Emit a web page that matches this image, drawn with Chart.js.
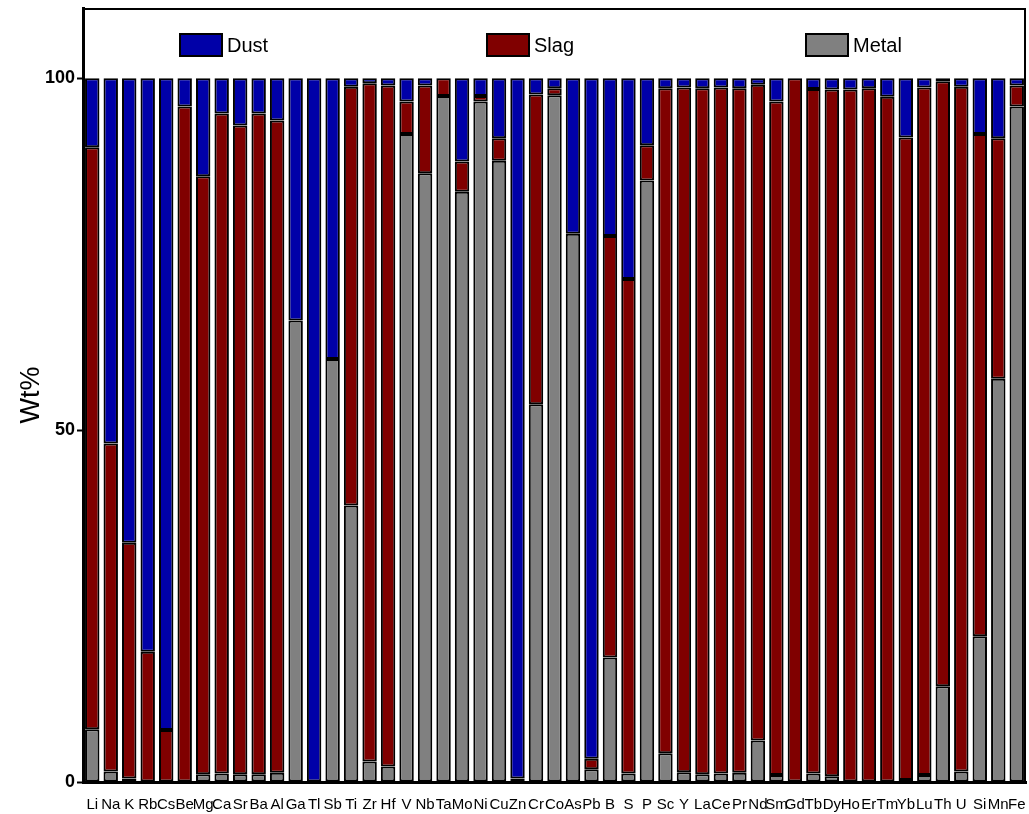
<!DOCTYPE html>
<html>
<head>
<meta charset="utf-8">
<title>Element distribution, Wt%</title>
<script src="https://cdn.jsdelivr.net/npm/chart.js@4.4.1/dist/chart.umd.min.js"></script>
<style>
  html, body { margin: 0; padding: 0; background: #ffffff; }
  #wrap { position: relative; width: 1029px; height: 814px; }
</style>
</head>
<body>
<div id="wrap"><canvas id="chart"></canvas></div>
<script>
// Elements along the x axis
const elements = ['Li','Na','K','Rb','Cs','Be','Mg','Ca','Sr','Ba','Al','Ga','Tl','Sb','Ti','Zr','Hf','V','Nb','Ta',
  'Mo','Ni','Cu','Zn','Cr','Co','As','Pb','B','S','P','Sc','Y','La','Ce','Pr','Nd','Sm','Gd','Tb',
  'Dy','Ho','Er','Tm','Yb','Lu','Th','U','Si','Mn','Fe'];

// Share of each element reporting to the metal phase (wt%)
const metal = [7.5,1.5,0.5,0,0,0,1.1,1.2,1.1,1.1,1.3,65.6,0,60.1,39.3,2.9,2.2,92.1,86.5,97.5,
  83.9,96.7,88.3,0.5,53.7,97.6,77.9,1.8,17.7,1.2,85.5,4.1,1.4,1.1,1.2,1.3,5.9,1.0,0,1.2,
  0.8,0,0,0,0.3,1.0,13.6,1.5,20.7,57.3,96.0];

// Share reporting to the slag (wt%)
const slag = [82.7,46.6,33.5,18.5,7.4,96.0,85.0,93.8,92.2,93.9,92.7,0,0,0,59.5,96.4,96.8,4.6,12.5,2.5,
  4.3,0.8,3.2,0,44.0,1.0,0,1.5,59.9,70.3,5.0,94.5,97.3,97.5,97.5,97.3,93.2,95.7,100,97.3,
  97.6,98.4,98.6,97.4,91.3,97.7,86.0,97.3,71.4,34.2,3.0];

// Share leaving with the dust (wt%)
const dust = [9.8,51.9,66.0,81.5,92.6,4.0,13.9,5.0,6.7,5.0,6.0,34.4,100,39.9,1.2,0.7,1.0,3.3,1.0,0,
  11.8,2.5,8.5,99.5,2.3,1.4,22.1,96.7,22.4,28.5,9.5,1.4,1.3,1.4,1.3,1.4,0.9,3.3,0,1.5,
  1.6,1.6,1.4,2.6,8.4,1.3,0.4,1.2,7.9,8.5,1.0];

const yTicks = [0, 50, 100];

const FONT = '"Liberation Sans", Arial, Helvetica, sans-serif';

// Frame around the plot plus the in-frame legend (Dust, Slag, Metal)
const frameAndKey = {
  id: 'frameAndKey',
  afterDraw(chart) {
    const { ctx, chartArea: { left, right, top, bottom } } = chart;
    ctx.save();
    ctx.strokeStyle = '#000';
    ctx.lineWidth = 2;
    ctx.beginPath();
    ctx.moveTo(left, top + 1);
    ctx.lineTo(right - 1, top + 1);
    ctx.lineTo(right - 1, bottom);
    ctx.stroke();

    const order = ['Dust', 'Slag', 'Metal'];
    const xs = [97, 404, 723];
    ctx.font = '20px ' + FONT;
    ctx.textBaseline = 'middle';
    ctx.textAlign = 'left';
    order.forEach((name, i) => {
      const ds = chart.data.datasets.find(d => d.label === name);
      const bx = left + xs[i];
      const by = top + 26;
      ctx.fillStyle = ds.backgroundColor;
      ctx.fillRect(bx, by, 42, 22);
      ctx.lineWidth = 2;
      ctx.strokeStyle = '#000';
      ctx.strokeRect(bx, by, 42, 22);
      ctx.fillStyle = '#000';
      ctx.fillText(name, bx + 47, by + 12);
    });
    ctx.restore();
  }
};

const barStyle = {
  borderColor: '#000000',
  borderWidth: 2,
  borderSkipped: false,
  barPercentage: 0.78,
  categoryPercentage: 1.0
};

new Chart(document.getElementById('chart'), {
  type: 'bar',
  data: {
    labels: elements,
    datasets: [
      Object.assign({ label: 'Metal', data: metal, backgroundColor: '#808080' }, barStyle),
      Object.assign({ label: 'Slag', data: slag, backgroundColor: '#800000' }, barStyle),
      Object.assign({ label: 'Dust', data: dust, backgroundColor: '#0000a8' }, barStyle)
    ]
  },
  options: {
    responsive: true,
    maintainAspectRatio: false,
    animation: false,
    layout: { padding: { left: 15, right: 3, top: 8, bottom: 0 } },
    plugins: {
      legend: { display: false },
      tooltip: { enabled: false }
    },
    scales: {
      x: {
        stacked: true,
        grid: { display: false, drawTicks: false },
        border: { display: true, color: '#000', width: 3 },
        ticks: {
          color: '#000',
          font: { family: FONT, size: 15 },
          maxRotation: 0,
          minRotation: 0,
          autoSkip: false,
          padding: 14
        },
        afterFit(scale) {
          scale.height = 32;
          scale.paddingLeft = 0;
          scale.paddingRight = 0;
        }
      },
      y: {
        stacked: true,
        min: 0,
        max: 110,
        grid: { drawOnChartArea: false, drawTicks: true, tickLength: 6, tickWidth: 2, tickColor: '#000' },
        border: { display: true, color: '#000', width: 3 },
        ticks: {
          color: '#000',
          font: { family: FONT, size: 18, weight: 'bold' },
          padding: 2
        },
        afterBuildTicks(axis) { axis.ticks = yTicks.map(v => ({ value: v })); },
        title: {
          display: true,
          text: 'Wt%',
          color: '#000',
          font: { family: FONT, size: 27 },
          padding: 0
        },
        afterFit(scale) {
          scale.width = 68;
          scale.paddingTop = 0;
          scale.paddingBottom = 0;
        }
      }
    }
  },
  plugins: [frameAndKey]
});
</script>
</body>
</html>
